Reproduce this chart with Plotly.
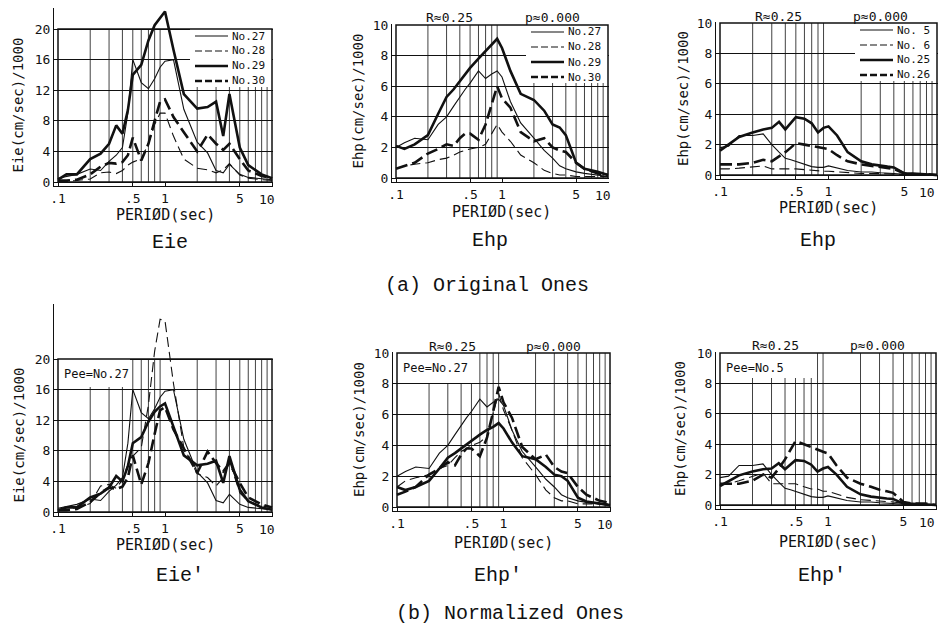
import plotly.graph_objects as go

# ---------------- data ----------------
periods = [0.1, 0.12, 0.15, 0.2, 0.25, 0.3, 0.35, 0.4, 0.45, 0.5, 0.6, 0.7, 0.8, 0.9,
           1.0, 1.2, 1.5, 2, 2.5, 3, 3.5, 4, 5, 6, 8, 10]
grid_periods = [0.2, 0.3, 0.4, 0.5, 0.6, 0.7, 0.8, 0.9, 2, 3, 4, 5, 6, 7, 8, 9]
x_tickvals = [0.1, 0.5, 1, 5, 10]
x_ticktext = [".1", ".5", "1", "5", ""]   # "10" is set right-aligned at the axis end
last_tick_label = "10"

# (a) original - Eie, No.27-30
eie_no27 = [0.5, 0.7, 1.0, 1.7, 1.5, 2.7, 3.5, 4.5, 9.0, 16.0, 13.0, 12.2, 13.5, 15.0, 15.8, 16.0, 9.5, 5.2, 3.8, 1.5, 1.2, 2.3, 1.0, 0.6, 0.4, 0.3]
eie_no28 = [0.1, 0.1, 0.2, 0.4, 1.2, 1.3, 1.1, 1.5, 2.2, 2.6, 3.0, 5.0, 7.5, 9.0, 9.0, 6.0, 3.0, 1.8, 1.6, 1.2, 1.6, 2.4, 0.9, 0.5, 0.3, 0.2]
eie_no29 = [0.3, 1.0, 1.0, 3.0, 3.7, 5.0, 7.4, 6.3, 9.4, 14.0, 15.3, 18.5, 20.5, 21.5, 22.3, 17.3, 11.5, 9.6, 9.8, 10.5, 6.0, 11.5, 4.5, 2.2, 1.0, 0.5]
eie_no30 = [0.2, 0.2, 0.3, 1.0, 2.0, 2.5, 2.4, 2.6, 3.5, 5.8, 2.8, 5.0, 8.0, 10.5, 10.8, 8.5, 6.5, 4.0, 6.2, 5.0, 4.2, 5.0, 3.0, 1.5, 0.8, 0.5]

# (a) original - Ehp, No.27-30
ehp_no27 = [2.0, 2.3, 2.6, 2.5, 3.5, 4.0, 4.7, 5.3, 5.8, 6.2, 7.0, 6.5, 6.8, 7.0, 6.6, 5.0, 3.6, 2.6, 1.8, 1.3, 0.8, 0.6, 0.4, 0.3, 0.2, 0.1]
ehp_no28 = [0.6, 0.8, 0.9, 1.0, 1.2, 1.3, 1.5, 1.7, 1.8, 1.9, 2.0, 2.2, 2.9, 3.5, 3.0, 2.4, 1.5, 1.0, 0.5, 0.3, 0.2, 0.2, 0.1, 0.1, 0.1, 0.1]
ehp_no29 = [2.1, 1.9, 2.2, 2.8, 4.2, 5.3, 5.8, 6.3, 6.8, 7.2, 7.8, 8.3, 8.7, 9.1, 8.5, 7.0, 5.5, 5.1, 4.4, 3.5, 3.3, 2.8, 1.0, 0.6, 0.4, 0.2]
ehp_no30 = [0.6, 0.8, 1.0, 1.6, 1.9, 2.2, 2.1, 2.6, 2.9, 2.9, 2.5, 3.5, 4.8, 6.0, 5.2, 4.6, 3.0, 2.4, 2.6, 2.0, 1.8, 1.7, 1.0, 0.6, 0.3, 0.2]

# (a) original - Ehp, No.5, 6, 25, 26
ehp_no5 = [1.8, 1.9, 2.6, 2.6, 2.7, 2.0, 1.5, 1.1, 1.0, 0.9, 0.7, 0.55, 0.5, 0.5, 0.6, 0.45, 0.3, 0.2, 0.2, 0.15, 0.1, 0.1, 0.05, 0.05, 0.0, 0.0]
ehp_no6 = [0.4, 0.4, 0.45, 0.55, 0.6, 0.4, 0.4, 0.4, 0.4, 0.4, 0.35, 0.3, 0.3, 0.25, 0.25, 0.2, 0.15, 0.1, 0.1, 0.1, 0.08, 0.05, 0.03, 0.02, 0.01, 0.0]
ehp_no25 = [1.6, 2.0, 2.5, 2.8, 3.0, 3.1, 3.5, 3.0, 3.4, 3.8, 3.7, 3.4, 2.8, 3.1, 3.2, 2.6, 1.5, 0.9, 0.7, 0.6, 0.55, 0.5, 0.1, 0.1, 0.05, 0.0]
ehp_no26 = [0.7, 0.7, 0.7, 0.8, 1.0, 0.9, 1.2, 1.5, 1.8, 2.1, 2.0, 1.9, 1.8, 1.75, 1.7, 1.3, 0.9, 0.7, 0.6, 0.5, 0.45, 0.4, 0.1, 0.05, 0.05, 0.0]

# (b) normalized - Eie', Pee=No.27
eien_no27 = [0.5, 0.7, 1.0, 1.7, 1.5, 2.7, 3.5, 4.5, 9.0, 16.0, 13.0, 12.2, 13.5, 15.0, 15.8, 16.0, 9.5, 5.2, 3.8, 1.5, 1.2, 2.3, 1.0, 0.6, 0.4, 0.3]
eien_no28 = [0.3, 0.3, 0.6, 1.1, 3.4, 3.6, 3.1, 4.2, 6.2, 7.3, 8.4, 14.0, 21.0, 25.2, 25.0, 16.8, 8.4, 5.0, 4.5, 3.4, 4.5, 6.7, 2.5, 1.4, 0.8, 0.6]
eien_no29 = [0.2, 0.6, 0.6, 1.9, 2.4, 3.2, 4.7, 4.0, 6.0, 9.0, 9.8, 11.8, 13.1, 13.8, 14.2, 11.1, 7.4, 6.1, 6.3, 6.7, 3.8, 7.3, 2.9, 1.4, 0.6, 0.3]
eien_no30 = [0.25, 0.25, 0.4, 1.3, 2.5, 3.2, 3.0, 3.3, 4.5, 7.4, 3.6, 6.4, 10.2, 13.3, 13.7, 10.8, 8.3, 5.1, 7.9, 6.4, 5.3, 6.4, 3.8, 1.9, 1.0, 0.6]

# (b) normalized - Ehp', Pee=No.27
ehpn_no27 = [2.0, 2.3, 2.6, 2.5, 3.5, 4.0, 4.7, 5.3, 5.8, 6.2, 7.0, 6.5, 6.8, 7.0, 6.6, 5.0, 3.6, 2.6, 1.8, 1.3, 0.8, 0.6, 0.4, 0.3, 0.2, 0.1]
ehpn_no28 = [1.3, 1.7, 1.9, 2.1, 2.5, 2.7, 3.2, 3.6, 3.8, 4.0, 4.2, 4.6, 6.1, 7.4, 6.3, 5.0, 3.2, 2.1, 1.1, 0.6, 0.4, 0.4, 0.2, 0.2, 0.2, 0.2]
ehpn_no29 = [1.3, 1.1, 1.3, 1.7, 2.5, 3.2, 3.5, 3.8, 4.1, 4.3, 4.7, 5.0, 5.2, 5.45, 5.1, 4.2, 3.3, 3.1, 2.6, 2.1, 2.0, 1.7, 0.6, 0.36, 0.24, 0.12]
ehpn_no30 = [0.8, 1.0, 1.3, 2.1, 2.5, 2.9, 2.7, 3.4, 3.8, 3.8, 3.3, 4.5, 6.2, 7.8, 6.8, 5.8, 3.9, 3.1, 3.4, 2.6, 2.3, 2.2, 1.3, 0.8, 0.4, 0.26]

# (b) normalized - Ehp', Pee=No.5
ehpn_no5 = [1.8, 1.9, 2.6, 2.6, 2.7, 2.0, 1.5, 1.1, 1.0, 0.9, 0.7, 0.55, 0.5, 0.5, 0.6, 0.45, 0.3, 0.2, 0.2, 0.15, 0.1, 0.1, 0.05, 0.05, 0.0, 0.0]
ehpn_no6 = [1.4, 1.4, 1.6, 1.9, 2.1, 1.4, 1.4, 1.4, 1.4, 1.4, 1.2, 1.05, 1.05, 0.9, 0.9, 0.7, 0.5, 0.35, 0.3, 0.25, 0.2, 0.2, 0.1, 0.05, 0.05, 0.0]
ehpn_no25 = [1.25, 1.56, 1.95, 2.2, 2.35, 2.4, 2.75, 2.35, 2.65, 2.95, 2.9, 2.65, 2.2, 2.4, 2.5, 2.0, 1.2, 0.7, 0.55, 0.47, 0.43, 0.4, 0.08, 0.08, 0.04, 0.0]
ehpn_no26 = [1.4, 1.4, 1.4, 1.6, 2.0, 1.8, 2.4, 3.0, 3.6, 4.2, 4.0, 3.8, 3.6, 3.5, 3.4, 2.6, 1.8, 1.4, 1.2, 1.0, 0.9, 0.8, 0.2, 0.1, 0.1, 0.0]

names_a = ["No.27", "No.28", "No.29", "No.30"]
names_b = ["No. 5", "No. 6", "No.25", "No.26"]

# ---------------- styling / layout ----------------
# the page body keeps an 8px margin, so the figure is drawn 16px smaller
OFF = 8
FW, FH = 930, 620
PAD = 4
MONO = "DejaVu Sans Mono"
CAP = "Courier New, Nimbus Mono PS, FreeMono, Liberation Mono, monospace"
INK = "#111111"
STYLES = [dict(width=1.1, dash="solid"), dict(width=1.1, dash="10px,5px"),
          dict(width=2.6, dash="solid"), dict(width=2.6, dash="12px,5px")]

panels = [
    dict(left=58, right=272, top=29, bottom=182, ymax=20, ytop=23, yticks=[0, 4, 8, 12, 16, 20],
         ytitle="Eie(cm/sec)/1000", ytx=18, xty=215, series=[eie_no27, eie_no28, eie_no29, eie_no30],
         names=names_a, legend=True, pee=None, rp=None),
    dict(left=396, right=608, top=25, bottom=178, ymax=10, ytop=10, yticks=[0, 2, 4, 6, 8, 10],
         ytitle="Ehp(cm/sec)/1000", ytx=357, xty=212, series=[ehp_no27, ehp_no28, ehp_no29, ehp_no30],
         names=names_a, legend=True, pee=None, rp=(449, 552, 17)),
    dict(left=720, right=937, top=23, bottom=175, ymax=10, ytop=10, yticks=[0, 2, 4, 6, 8, 10],
         ytitle="Ehp(cm/sec)/1000", ytx=683, xty=208, series=[ehp_no5, ehp_no6, ehp_no25, ehp_no26],
         names=names_b, legend=True, pee=None, rp=(778, 880, 16)),
    dict(left=58, right=272, top=359, bottom=512, ymax=20, ytop=27, yticks=[0, 4, 8, 12, 16, 20],
         ytitle="Eie(cm/sec)/1000", ytx=18, xty=545, series=[eien_no27, eien_no28, eien_no29, eien_no30],
         names=names_a, legend=False, pee=("Pee=No.27", 72, 28), rp=None),
    dict(left=397, right=610, top=353, bottom=507, ymax=10, ytop=10, yticks=[0, 2, 4, 6, 8, 10],
         ytitle="Ehp(cm/sec)/1000", ytx=359, xty=543, series=[ehpn_no27, ehpn_no28, ehpn_no29, ehpn_no30],
         names=names_a, legend=False, pee=("Pee=No.27", 75, 30), rp=(452, 553, 346)),
    dict(left=720, right=936, top=353, bottom=505, ymax=10, ytop=10, yticks=[0, 2, 4, 6, 8, 10],
         ytitle="Ehp(cm/sec)/1000", ytx=680, xty=542, series=[ehpn_no5, ehpn_no6, ehpn_no25, ehpn_no26],
         names=names_b, legend=False, pee=("Pee=No.5", 95, 25), rp=(775, 877, 345)),
]

fig = go.Figure()
shapes = []
annotations = []


def px_x(p):
    return (p - OFF) / FW


def px_y(p):
    return 1 - (p - OFF) / FH


for i, p in enumerate(panels, start=1):
    xa = "x" if i == 1 else f"x{i}"
    ya = "y" if i == 1 else f"y{i}"
    w = p["right"] - p["left"]
    h = p["bottom"] - p["top"]
    upp = p["ymax"] / h  # data units per pixel
    extra_top_px = (p["ytop"] - p["ymax"]) / upp
    dom_top_px = max(p["top"] - extra_top_px - 1, OFF)
    range_top = p["ymax"] + (p["top"] - dom_top_px) * upp

    # vertical grid lines (drawn from the period axis)
    gx, gy = [], []
    for g in grid_periods:
        gx += [g, g, None]
        gy += [0, p["ymax"], None]
    fig.add_trace(go.Scatter(x=gx, y=gy, mode="lines", line=dict(color=INK, width=0.8),
                             hoverinfo="skip", showlegend=False, xaxis=xa, yaxis=ya))
    # data series
    for s, name, st in zip(p["series"], p["names"], STYLES):
        fig.add_trace(go.Scatter(x=periods, y=s, mode="lines", name=name,
                                 line=dict(color=INK, width=st["width"], dash=st["dash"]),
                                 showlegend=False, xaxis=xa, yaxis=ya))

    xkey = "xaxis" if i == 1 else f"xaxis{i}"
    ykey = "yaxis" if i == 1 else f"yaxis{i}"
    fig.layout[xkey] = dict(
        type="log", domain=[px_x(p["left"] - PAD), min(px_x(p["right"] + 1), 1)],
        range=[-1 - 2 * PAD / w, 1 + 2 * 1 / w], anchor=ya,
        tickvals=x_tickvals, ticktext=x_ticktext, ticks="inside", ticklen=4,
        tickcolor=INK, showline=True, linecolor=INK, linewidth=1.2, showgrid=False,
        zeroline=False, tickfont=dict(family=MONO, size=13, color=INK), fixedrange=True,
        automargin=False)
    fig.layout[ykey] = dict(
        domain=[px_y(p["bottom"] + PAD), px_y(dom_top_px)],
        range=[-PAD * upp, range_top], anchor=xa,
        tickvals=p["yticks"], ticks="inside", ticklen=4, tickcolor=INK,
        showline=True, linecolor=INK, linewidth=1.2, showgrid=True, gridcolor=INK,
        gridwidth=0.8, zeroline=False, tickfont=dict(family=MONO, size=13, color=INK),
        fixedrange=True, automargin=False)

    # last period label, right-aligned at the end of the axis as in the original plot
    annotations.append(dict(xref="paper", yref="paper", x=px_x(min(p["right"] + 5, 937)),
                            y=px_y(p["bottom"] + PAD + 13), text=last_tick_label,
                            xanchor="right", yanchor="middle", showarrow=False,
                            font=dict(family=MONO, size=13, color=INK)))

    # white boxes for legend / Pee label
    if p["legend"]:
        shapes.append(dict(type="rect", xref="paper", yref="paper", layer="above",
                           x0=px_x(p["right"] - 82), x1=px_x(p["right"]),
                           y0=px_y(p["top"] + 58), y1=px_y(p["top"]),
                           fillcolor="white", line=dict(width=0)))
        for k, (name, st) in enumerate(zip(p["names"], STYLES)):
            yy = p["top"] + 7 + 15 * k
            shapes.append(dict(type="line", xref="paper", yref="paper", layer="above",
                               x0=px_x(p["right"] - 77), x1=px_x(p["right"] - 44),
                               y0=px_y(yy), y1=px_y(yy),
                               line=dict(color=INK, width=st["width"],
                                         dash="solid" if st["dash"] == "solid" else "7px,3px")))
            annotations.append(dict(xref="paper", yref="paper", x=px_x(p["right"] - 42), y=px_y(yy),
                                    xanchor="left", yanchor="middle", text=name, showarrow=False,
                                    font=dict(family=MONO, size=11, color=INK)))
    if p["pee"]:
        txt, bw, bh = p["pee"]
        shapes.append(dict(type="rect", xref="paper", yref="paper", layer="above",
                           x0=px_x(p["left"]), x1=px_x(p["left"] + bw),
                           y0=px_y(p["top"] + bh), y1=px_y(p["top"]),
                           fillcolor="white", line=dict(width=0)))
        annotations.append(dict(xref="paper", yref="paper", x=px_x(p["left"] + 4), y=px_y(p["top"] + 15),
                                xanchor="left", yanchor="middle", text=txt, showarrow=False,
                                font=dict(family=MONO, size=12, color=INK)))
    # frame
    shapes.append(dict(type="rect", xref=xa, yref=ya, layer="above", x0=0.1, x1=10, y0=0, y1=p["ymax"],
                       line=dict(color=INK, width=1.5), fillcolor="rgba(0,0,0,0)"))

    # axis titles
    annotations.append(dict(xref="paper", yref="paper", x=px_x(p["ytx"]),
                            y=px_y((p["top"] + p["bottom"]) / 2), text=p["ytitle"], textangle=-90,
                            showarrow=False, xanchor="center", yanchor="middle",
                            font=dict(family=MONO, size=14, color=INK)))
    annotations.append(dict(xref="paper", yref="paper", x=px_x((p["left"] + p["right"]) / 2),
                            y=px_y(p["xty"]), text="PERIØD(sec)", showarrow=False,
                            xanchor="center", yanchor="middle",
                            font=dict(family=MONO, size=15, color=INK)))
    if p["rp"]:
        rx, pxx, ry = p["rp"]
        annotations.append(dict(xref="paper", yref="paper", x=px_x(rx), y=px_y(ry), text="R≈0.25",
                                showarrow=False, xanchor="center", yanchor="middle",
                                font=dict(family=MONO, size=13, color=INK)))
        annotations.append(dict(xref="paper", yref="paper", x=px_x(pxx), y=px_y(ry), text="p≈0.000",
                                showarrow=False, xanchor="center", yanchor="middle",
                                font=dict(family=MONO, size=13, color=INK)))

captions = [("Eie", 170, 242), ("Ehp", 490, 240), ("Ehp", 818, 240),
            ("(a) Original Ones", 487, 285),
            ("Eie'", 180, 575), ("Ehp'", 498, 575), ("Ehp'", 822, 575),
            ("(b) Normalized Ones", 510, 613)]
for txt, cx, cy in captions:
    annotations.append(dict(xref="paper", yref="paper", x=px_x(cx), y=px_y(cy), text=txt,
                            showarrow=False, xanchor="center", yanchor="middle",
                            font=dict(family=CAP, size=20, color=INK)))

fig.update_layout(width=FW, height=FH, margin=dict(l=0, r=0, t=0, b=0),
                  paper_bgcolor="white", plot_bgcolor="white", showlegend=False,
                  shapes=shapes, annotations=annotations)
fig.write_html("out.html")
